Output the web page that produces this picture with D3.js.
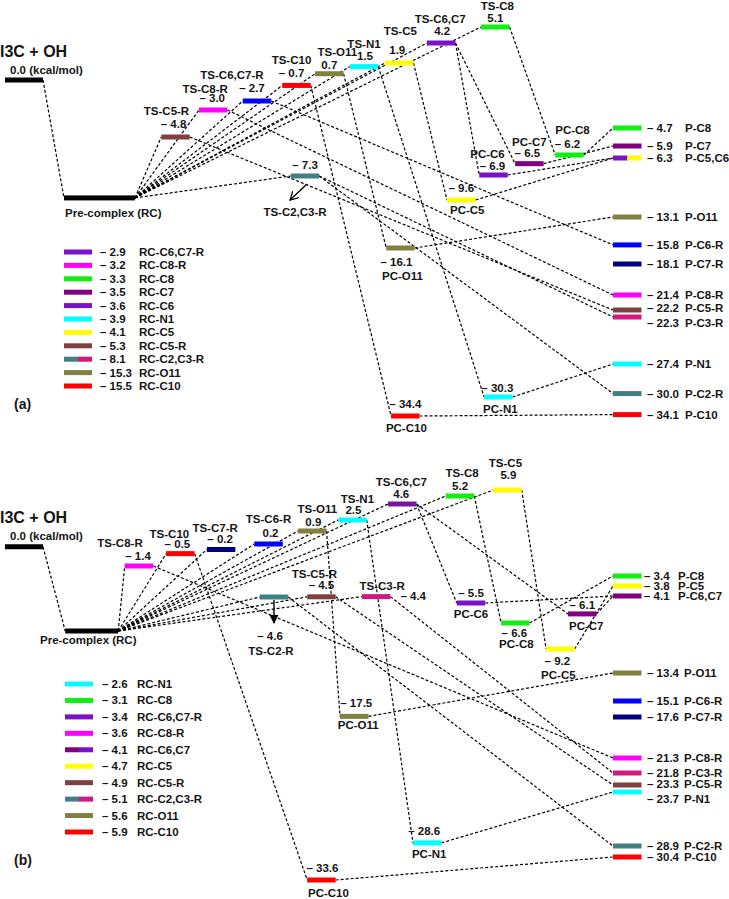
<!DOCTYPE html>
<html><head><meta charset="utf-8">
<script src="https://cdn.jsdelivr.net/npm/d3@7"></script>
<style>
body{margin:0;background:#fff}
svg text{font-family:"Liberation Sans",Arial,sans-serif;font-weight:bold;fill:#151515;font-size:11.5px}
</style></head><body>
<svg id="chart" width="729" height="899"></svg>
<script>
// ================= DATA =================
const reactantName = "I3C + OH";
const reactantValue = 0.0;

// ---- panel (a) ----
const tsNamesA  = ["TS-C5-R","TS-C8-R","TS-C6,C7-R","TS-C10","TS-O11","TS-N1","TS-C5","TS-C6,C7","TS-C8","TS-C2,C3-R"];
const tsValuesA = [-4.8, -3.0, -2.7, -0.7, 0.7, 1.5, 1.9, 4.2, 5.1, -7.3];
const pcNamesA  = ["PC-C6","PC-C7","PC-C8","PC-C5","PC-O11","PC-N1","PC-C10"];
const pcValuesA = [-6.9, -6.5, -6.2, -9.6, -16.1, -30.3, -34.4];
const pNamesA   = ["P-C8","P-C7","P-C5,C6","P-O11","P-C6-R","P-C7-R","P-C8-R","P-C5-R","P-C3-R","P-N1","P-C2-R","P-C10"];
const pValuesA  = [-4.7, -5.9, -6.3, -13.1, -15.8, -18.1, -21.4, -22.2, -22.3, -27.4, -30.0, -34.1];
const rcNamesA  = ["RC-C6,C7-R","RC-C8-R","RC-C8","RC-C7","RC-C6","RC-N1","RC-C5","RC-C5-R","RC-C2,C3-R","RC-O11","RC-C10"];
const rcValuesA = [-2.9, -3.2, -3.3, -3.5, -3.6, -3.9, -4.1, -5.3, -8.1, -15.3, -15.5];
const linksA = [
  ["R","RC"],
  ["RC","TS-C5-R"],["RC","TS-C8-R"],["RC","TS-C6,C7-R"],["RC","TS-C10"],["RC","TS-O11"],
  ["RC","TS-N1"],["RC","TS-C5"],["RC","TS-C6,C7"],["RC","TS-C8"],["RC","TS-C2,C3-R"],
  ["TS-C8","PC-C8"],["TS-C6,C7","PC-C6"],["TS-C6,C7","PC-C7"],["TS-C5","PC-C5"],
  ["TS-N1","PC-N1"],["TS-O11","PC-O11"],["TS-C10","PC-C10"],
  ["TS-C6,C7-R","P-C6-R"],["TS-C8-R","P-C8-R"],["TS-C5-R","P-C5-R"],
  ["TS-C2,C3-R","P-C3-R"],["TS-C2,C3-R","P-C2-R"],
  ["PC-C5","P-C5,C6"],["PC-C6","P-C5,C6"],["PC-C7","P-C7"],["PC-C8","P-C8"],
  ["PC-O11","P-O11"],["PC-N1","P-N1"],["PC-C10","P-C10"]
];

// ---- panel (b) ----
const tsNamesB  = ["TS-C8-R","TS-C10","TS-C7-R","TS-C6-R","TS-O11","TS-N1","TS-C6,C7","TS-C8","TS-C5","TS-C2-R","TS-C5-R","TS-C3-R"];
const tsValuesB = [-1.4, -0.5, -0.2, 0.2, 0.9, 2.5, 4.6, 5.2, 5.9, -4.6, -4.5, -4.4];
const pcNamesB  = ["PC-C6","PC-C8","PC-C7","PC-C5","PC-O11","PC-N1","PC-C10"];
const pcValuesB = [-5.5, -6.6, -6.1, -9.2, -17.5, -28.6, -33.6];
const pNamesB   = ["P-C8","P-C5","P-C6,C7","P-O11","P-C6-R","P-C7-R","P-C8-R","P-C3-R","P-C5-R","P-N1","P-C2-R","P-C10"];
const pValuesB  = [-3.4, -3.8, -4.1, -13.4, -15.1, -17.6, -21.3, -21.8, -23.3, -23.7, -28.9, -30.4];
const rcNamesB  = ["RC-N1","RC-C8","RC-C6,C7-R","RC-C8-R","RC-C6,C7","RC-C5","RC-C5-R","RC-C2,C3-R","RC-O11","RC-C10"];
const rcValuesB = [-2.6, -3.1, -3.4, -3.6, -4.1, -4.7, -4.9, -5.1, -5.6, -5.9];
const linksB = [
  ["R","RC"],
  ["RC","TS-C8-R"],["RC","TS-C10"],["RC","TS-C7-R"],["RC","TS-C6-R"],["RC","TS-O11"],["RC","TS-N1"],
  ["RC","TS-C6,C7"],["RC","TS-C8"],["RC","TS-C5"],["RC","TS-C2-R"],["RC","TS-C5-R"],["RC","TS-C3-R"],
  ["TS-C8-R","P-C8-R"],["TS-C10","PC-C10"],["TS-O11","PC-O11"],["TS-N1","PC-N1"],
  ["TS-C6,C7","PC-C6"],["TS-C6,C7","PC-C7"],["TS-C8","PC-C8"],["TS-C5","PC-C5"],
  ["TS-C2-R","P-C2-R"],["TS-C5-R","P-C5-R"],["TS-C3-R","P-C3-R"],
  ["PC-C6","P-C6,C7"],["PC-C7","P-C6,C7"],["PC-C8","P-C8"],["PC-C5","P-C5"],
  ["PC-O11","P-O11"],["PC-N1","P-N1"],["PC-C10","P-C10"]
];

// schematic level of the pre-complex bar (no energy printed for it)
const preLevelA = -9.4;
const preLevelB = -7.4;

// ================= STYLE / LAYOUT =================
const C = {brown:"#804040", mag:"#ff00ff", blue:"#0000ff", navy:"#000080", red:"#ff0000",
  olive:"#808040", cyan:"#00ffff", yellow:"#ffff00", purple:"#7b12c8", dpurple:"#800080",
  green:"#11ee11", teal:"#408080", crimson:"#d2187f", mid:"#7a169e"};
const siteColors = {"C5-R":[C.brown],"C8-R":[C.mag],"C6-R":[C.blue],"C7-R":[C.navy],"C10":[C.red],
  "O11":[C.olive],"N1":[C.cyan],"C5":[C.yellow],"C6":[C.purple],"C7":[C.dpurple],"C8":[C.green],
  "C2-R":[C.teal],"C3-R":[C.crimson],"C2,C3-R":[C.teal,C.crimson],"C6,C7-R":[C.purple],
  "C5,C6":[C.purple,C.yellow],"C6,C7":[C.dpurple,C.purple]};

// reaction-coordinate column of each level (x axis of the diagram)
const colA = {"R":0,"RC":0.97,"TS-C5-R":2.57,"TS-C8-R":3.19,"TS-C6,C7-R":3.91,"TS-C10":4.56,"TS-O11":5.10,
  "TS-N1":5.67,"TS-C5":6.25,"TS-C6,C7":6.94,"TS-C8":7.83,"TS-C2,C3-R":4.70,
  "PC-C6":7.80,"PC-C7":8.39,"PC-C8":9.05,"PC-C5":7.27,"PC-O11":6.27,"PC-N1":7.88,"PC-C10":6.35};
const colB = {"R":0,"RC":0.99,"TS-C8-R":1.97,"TS-C10":2.65,"TS-C7-R":3.32,"TS-C6-R":4.10,"TS-O11":4.82,
  "TS-N1":5.48,"TS-C6,C7":6.30,"TS-C8":7.25,"TS-C5":8.03,"TS-C2-R":4.19,"TS-C5-R":4.97,"TS-C3-R":5.87,
  "PC-C6":7.43,"PC-C8":8.16,"PC-C7":9.26,"PC-C5":8.90,"PC-O11":5.51,"PC-N1":6.71,"PC-C10":4.97};
const PRODUCT_COL = 10;

const x = d3.scaleLinear().domain([0, 10]).range([5, 613]);
const BAR_W = 28.5, BAR_H = 5;

// schematic (piecewise) energy axes of the two panels
const yA = d3.scaleLinear()
  .domain([5.1, 4.2, 1.9, 0, -2.7, -3.0, -4.7, -4.8, -5.9, -6.3, -6.9, -7.3, -9.6, -13.1, -16.1, -18.1, -21.4, -22.2, -22.3, -27.4, -30.3, -34.4])
  .range([27, 43, 63, 80, 101, 110, 128, 137, 146, 158, 175, 176, 200, 217, 248, 264, 295, 310, 317, 364, 397, 416]);
const yB = d3.scaleLinear()
  .domain([5.9, 5.2, 4.6, 2.5, 0.9, 0.2, -1.4, -3.4, -3.8, -4.1, -4.6, -5.5, -6.6, -9.2, -13.4, -15.1, -17.6, -21.3, -21.8, -23.3, -23.7, -28.9, -30.4, -33.6])
  .range([490, 496, 504, 520, 531, 544, 566, 576, 586, 596, 597, 603, 623, 649, 673, 701, 717, 758, 773, 785, 792, 846, 857, 880]);

const fmt = v => v < 0 ? "\u2013 " + Math.abs(v).toFixed(1) : v.toFixed(1);

const panels = [
 { tag:"(a)", tagY:409, y:yA, col:colA, preLevel:preLevelA, preW:71,
   ts:[tsNamesA,tsValuesA], pc:[pcNamesA,pcValuesA], pr:[pNamesA,pValuesA], rc:[rcNamesA,rcValuesA], links:linksA,
   override:{"TS-C6,C7-R":[C.blue],"TS-C2,C3-R":[C.teal],"TS-C6,C7":[C.purple]},
   reactLab:{tdy:-23, udy:-6}, preLab:{x:65, dy:19},
   tsLab:{"TS-C5-R":[-9,-22,-2,-9],"TS-C8-R":[-8,-17,-1,-8],"TS-C6,C7-R":[-25,-22,-5,-9],"TS-C10":[-5,-21,-5,-8],
     "TS-O11":[8,-18,0,-5],"TS-N1":[0,-19,1,-7],"TS-C5":[1,-28,-2,-9],"TS-C6,C7":[-1,-20,1,-8],"TS-C8":[2,-17.5,0,-5.5],
     "TS-C2,C3-R":[-10,40,0,-7]},
   pcLab:{"PC-C6":[-6,-17,-1,-5],"PC-C7":[0,-18,-2,-7],"PC-C8":[3,-21,-2,-7],"PC-C5":[6,14,0,-8],
     "PC-O11":[2,32,-4,18],"PC-N1":[2,16,-1,-5],"PC-C10":[1,16,0,-8]},
   pValX: () => 647, pNameX: () => 685, pDy:{"P-C5-R":2,"P-C3-R":10},
   legend:{sx:64, vx:100, nx:139, rows:[252,386]},
   arrow:{from:[2,8], to:[-15,24], open:true}, arrowOn:"TS-C2,C3-R" },
 { tag:"(b)", tagY:865, y:yB, col:colB, preLevel:preLevelB, preW:53,
   ts:[tsNamesB,tsValuesB], pc:[pcNamesB,pcValuesB], pr:[pNamesB,pValuesB], rc:[rcNamesB,rcValuesB], links:linksB,
   override:{"TS-C6,C7":[C.mid],"P-C6,C7":[C.dpurple],"RC-C6,C7-R":[C.purple]},
   reactLab:{tdy:-24, udy:-7}, preLab:{x:40, dy:13},
   tsLab:{"TS-C8-R":[-19,-19,-1,-6],"TS-C10":[-11,-16,-3,-6],"TS-C7-R":[-6,-18,-1,-7],"TS-C6-R":[0,-21,2,-7],
     "TS-O11":[5,-18,1,-5],"TS-N1":[5,-17,1,-6],"TS-C6,C7":[-1,-18.5,-1,-6.5],"TS-C8":[2,-19,0,-6],"TS-C5":[-2,-23,1,-11],
     "TS-C2-R":[-3,58,-4,43],"TS-C5-R":[-7,-19,0,-8],"TS-C3-R":[6,-7,"right",3]},
   pcLab:{"PC-C6":[0,15,0,-6],"PC-C8":[1,25,-1,14],"PC-C7":[4,16,0,-5],"PC-C5":[-2,30,-3,16],
     "PC-O11":[4,13,2,-9],"PC-N1":[2,15,-3,-8],"PC-C10":[7,17,1,-8]},
   pValX: i => i < 3 ? 644 : 647, pNameX: i => i < 3 ? 678 : 684, pDy:{"P-N1":11,"P-C5-R":3},
   legend:{sx:65, vx:102, nx:137, rows:[684,832]},
   arrow:{from:[0,3], to:[0,26], open:false}, arrowOn:"TS-C2-R" }
];

const svg = d3.select("#chart");
const defs = svg.append("defs");
defs.append("marker").attr("id","arrOpen").attr("viewBox","0 0 10 10").attr("refX",9).attr("refY",5)
  .attr("markerWidth",9).attr("markerHeight",9).attr("orient","auto").attr("markerUnits","userSpaceOnUse")
  .append("path").attr("d","M0,0 L9,5 L0,10").attr("fill","none").attr("stroke","#000").attr("stroke-width",1.4);
defs.append("marker").attr("id","arrFill").attr("viewBox","0 0 10 10").attr("refX",9).attr("refY",5)
  .attr("markerWidth",9).attr("markerHeight",10).attr("orient","auto").attr("markerUnits","userSpaceOnUse")
  .append("path").attr("d","M0,0 L10,5 L0,10 Z").attr("fill","#000");

function colorsFor(name, p){
  if (p.override[name]) return p.override[name];
  const site = name.replace(/^(TS|PC|P|RC)-/, "");
  return siteColors[site] || ["#000"];
}

function drawBar(g, x0, w, yc, cols){
  const seg = w / cols.length;
  cols.forEach((c,i)=>{
    g.append("rect").attr("x", x0 + i*seg).attr("y", yc - BAR_H/2)
      .attr("width", seg + (i < cols.length-1 ? 0.3 : 0)).attr("height", BAR_H).attr("fill", c);
  });
}

panels.forEach(p => {
  const g = svg.append("g");
  const nodes = new Map();
  const add = (id, value, kind, w) => nodes.set(id, {id, value, kind,
      x0: x(kind === "P" ? PRODUCT_COL : p.col[id]), w: w || BAR_W, y: p.y(value)});
  add("R", reactantValue, "R", 38);
  add("RC", p.preLevel, "RC", p.preW);
  p.ts[0].forEach((n,i)=>add(n, p.ts[1][i], "TS"));
  p.pc[0].forEach((n,i)=>add(n, p.pc[1][i], "PC"));
  p.pr[0].forEach((n,i)=>add(n, p.pr[1][i], "P"));

  // dashed connectors
  g.append("g").selectAll("line").data(p.links).join("line")
    .attr("x1", d => nodes.get(d[0]).x0 + nodes.get(d[0]).w)
    .attr("y1", d => nodes.get(d[0]).y)
    .attr("x2", d => nodes.get(d[1]).x0)
    .attr("y2", d => nodes.get(d[1]).y)
    .attr("stroke","#000").attr("stroke-width",1.2).attr("stroke-dasharray","3,2");

  // bars
  const bars = g.append("g");
  nodes.forEach(n => {
    const cols = (n.kind === "R" || n.kind === "RC") ? ["#000"] : colorsFor(n.id, p);
    drawBar(bars, n.x0, n.w, n.y, cols);
  });

  // reactant & pre-complex labels
  const R = nodes.get("R"), RC = nodes.get("RC");
  g.append("text").attr("x", 0).attr("y", R.y + p.reactLab.tdy).style("font-size","16px").text(reactantName);
  g.append("text").attr("x", 10).attr("y", R.y + p.reactLab.udy).text(fmt(reactantValue) + " (kcal/mol)");
  g.append("text").attr("x", p.preLab.x).attr("y", RC.y + p.preLab.dy).text("Pre-complex (RC)");

  // TS labels
  p.ts[0].forEach(n => {
    const d = nodes.get(n), cx = d.x0 + d.w/2, o = p.tsLab[n];
    g.append("text").attr("x", cx + o[0]).attr("y", d.y + o[1]).attr("text-anchor","middle").text(n);
    if (o[2] === "right")
      g.append("text").attr("x", d.x0 + d.w + 10).attr("y", d.y + o[3]).text(fmt(d.value));
    else
      g.append("text").attr("x", cx + o[2]).attr("y", d.y + o[3]).attr("text-anchor","middle").text(fmt(d.value));
  });
  // arrow under the lower TS
  const A = nodes.get(p.arrowOn), acx = A.x0 + A.w/2;
  g.append("line").attr("x1", acx + p.arrow.from[0]).attr("y1", A.y + p.arrow.from[1])
    .attr("x2", acx + p.arrow.to[0]).attr("y2", A.y + p.arrow.to[1])
    .attr("stroke","#000").attr("stroke-width",1.4)
    .attr("marker-end", p.arrow.open ? "url(#arrOpen)" : "url(#arrFill)");

  // PC labels
  p.pc[0].forEach(n => {
    const d = nodes.get(n), cx = d.x0 + d.w/2, o = p.pcLab[n];
    g.append("text").attr("x", cx + o[0]).attr("y", d.y + o[1]).attr("text-anchor","middle").text(n);
    g.append("text").attr("x", cx + o[2]).attr("y", d.y + o[3]).attr("text-anchor","middle").text(fmt(d.value));
  });

  // product labels
  p.pr[0].forEach((n,i) => {
    const d = nodes.get(n), dy = (p.pDy[n] !== undefined ? p.pDy[n] : 4);
    g.append("text").attr("x", p.pValX(i)).attr("y", d.y + dy).text(fmt(d.value));
    g.append("text").attr("x", p.pNameX(i)).attr("y", d.y + dy).text(n);
  });

  // legend of the reactant complexes
  const ly = d3.scalePoint().domain(p.rc[0]).range(p.legend.rows);
  p.rc[0].forEach((n,i) => {
    const yy = ly(n);
    drawBar(g, p.legend.sx, 28, yy, colorsFor(n, p));
    g.append("text").attr("x", p.legend.vx).attr("y", yy + 4).text(fmt(p.rc[1][i]));
    g.append("text").attr("x", p.legend.nx).attr("y", yy + 4).text(n);
  });

  g.append("text").attr("x", 14).attr("y", p.tagY).style("font-size","14px").text(p.tag);
});
</script>
</body></html>
